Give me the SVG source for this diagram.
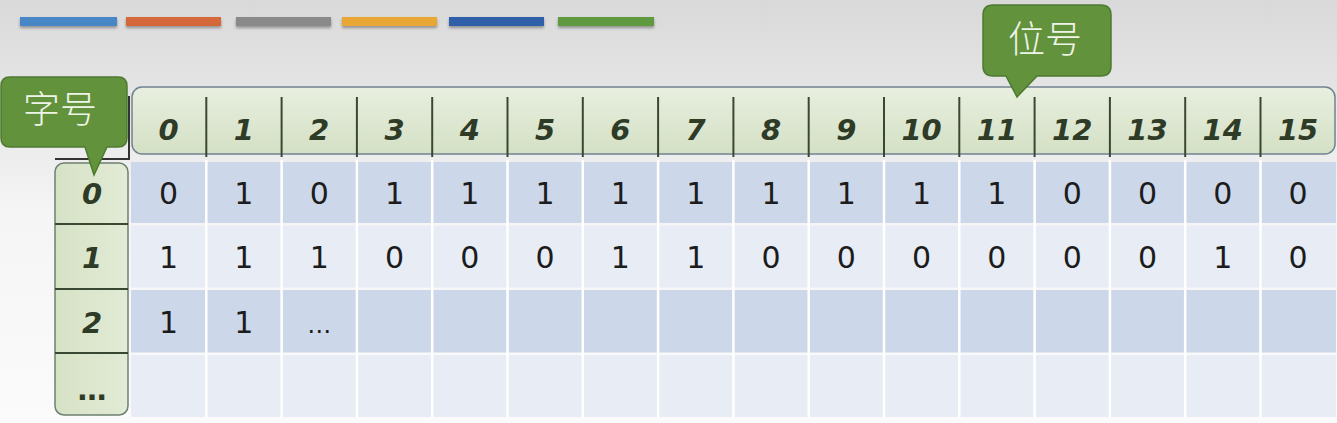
<svg xmlns="http://www.w3.org/2000/svg" width="1337" height="423" viewBox="0 0 1337 423">
  <defs>
    <linearGradient id="bg" x1="0" y1="0" x2="0" y2="1">
      <stop offset="0" stop-color="#d9d9d9"/>
      <stop offset="0.3" stop-color="#e9e9e9"/>
      <stop offset="0.5" stop-color="#f5f5f5"/>
      <stop offset="1" stop-color="#fbfbfb"/>
    </linearGradient>
    <linearGradient id="hdr" x1="0" y1="0" x2="0" y2="1">
      <stop offset="0" stop-color="#e8efdf"/>
      <stop offset="1" stop-color="#d4e0c5"/>
    </linearGradient>
    <linearGradient id="lcol" x1="0" y1="0" x2="1" y2="0">
      <stop offset="0" stop-color="#d6e2c6"/>
      <stop offset="1" stop-color="#e2ebd5"/>
    </linearGradient>
    <filter id="sh" x="-10%" y="-50%" width="120%" height="250%">
      <feGaussianBlur in="SourceAlpha" stdDeviation="1.5"/>
      <feOffset dy="2" result="b"/>
      <feComponentTransfer><feFuncA type="linear" slope="0.35"/></feComponentTransfer>
      <feMerge><feMergeNode/><feMergeNode in="SourceGraphic"/></feMerge>
    </filter>
  </defs>
  <style>
    .hd { font-family: "DejaVu Sans", "Liberation Sans", sans-serif; font-weight: bold; font-style: italic; font-size: 29px; fill: #2e3b26; text-anchor: middle; }
    .cell { font-family: "DejaVu Sans", "Liberation Sans", sans-serif; font-size: 30px; fill: #1c1c1c; text-anchor: middle; }
    .cjk { font-family: "Noto Sans CJK SC", "Noto Sans", sans-serif; font-weight: 300; font-size: 37px; fill: #eef4e8; text-anchor: middle; }
    .div { stroke: #3a4833; stroke-width: 2; }
    .gap { stroke: #ffffff; stroke-width: 2.5; }
    .callout { fill: #62923b; stroke: #4d7a2f; stroke-width: 1.5; }
    .dark { fill: #ccd7e9; }
    .light { fill: #e7ecf5; }
  </style>

  <rect x="0" y="0" width="1337" height="423" fill="url(#bg)"/>

  <g id="legend-bars" filter="url(#sh)">
    <rect x="20" y="17" width="97" height="9" fill="#4a86c6"/>
    <rect x="126" y="17" width="95" height="9" fill="#d4683a"/>
    <rect x="236" y="17" width="95" height="9" fill="#8a8a8a"/>
    <rect x="342" y="17" width="95" height="9" fill="#e9a736"/>
    <rect x="449" y="17" width="95" height="9" fill="#2f5ea8"/>
    <rect x="558" y="17" width="96" height="9" fill="#5f9a3f"/>
  </g>

  <g id="corner-lines" stroke="#333333" stroke-width="2" fill="none">
    <line x1="55" y1="159" x2="130" y2="159"/>
    <line x1="129" y1="96" x2="129" y2="159"/>
  </g>

  <g id="bit-header">
    <rect x="132" y="87" width="1203" height="67" rx="10" fill="url(#hdr)" stroke="#6f8291" stroke-width="1.5"/>
    <g class="div">
      <line x1="206.3" y1="97" x2="206.3" y2="157"/>
      <line x1="281.6" y1="97" x2="281.6" y2="157"/>
      <line x1="356.9" y1="97" x2="356.9" y2="157"/>
      <line x1="432.2" y1="97" x2="432.2" y2="157"/>
      <line x1="507.5" y1="97" x2="507.5" y2="157"/>
      <line x1="582.8" y1="97" x2="582.8" y2="157"/>
      <line x1="658.1" y1="97" x2="658.1" y2="157"/>
      <line x1="733.4" y1="97" x2="733.4" y2="157"/>
      <line x1="808.7" y1="97" x2="808.7" y2="157"/>
      <line x1="884.0" y1="97" x2="884.0" y2="157"/>
      <line x1="959.3" y1="97" x2="959.3" y2="157"/>
      <line x1="1034.6" y1="97" x2="1034.6" y2="157"/>
      <line x1="1109.9" y1="97" x2="1109.9" y2="157"/>
      <line x1="1185.2" y1="97" x2="1185.2" y2="157"/>
      <line x1="1260.5" y1="97" x2="1260.5" y2="157"/>
    </g>
    <g class="hd">
      <text x="168.6" y="140">0</text>
      <text x="243.9" y="140">1</text>
      <text x="319.2" y="140">2</text>
      <text x="394.5" y="140">3</text>
      <text x="469.8" y="140">4</text>
      <text x="545.1" y="140">5</text>
      <text x="620.4" y="140">6</text>
      <text x="695.7" y="140">7</text>
      <text x="771.0" y="140">8</text>
      <text x="846.3" y="140">9</text>
      <text x="921.6" y="140">10</text>
      <text x="996.9" y="140">11</text>
      <text x="1072.2" y="140">12</text>
      <text x="1147.5" y="140">13</text>
      <text x="1222.8" y="140">14</text>
      <text x="1298.1" y="140">15</text>
    </g>
  </g>

  <g id="word-column">
    <rect x="55" y="163" width="73" height="252" rx="9" fill="url(#lcol)" stroke="#6d8070" stroke-width="1.5"/>
    <g class="div">
      <line x1="55" y1="224" x2="128" y2="224"/>
      <line x1="55" y1="289" x2="128" y2="289"/>
      <line x1="55" y1="353" x2="128" y2="353"/>
    </g>
    <g class="hd">
      <text x="92" y="204">0</text>
      <text x="92" y="268">1</text>
      <text x="92" y="333">2</text>
      <text x="92" y="400" font-style="normal">…</text>
    </g>
  </g>

  <g id="bit-table">
    <rect class="dark" x="131" y="162" width="1205" height="61"/>
    <rect class="light" x="131" y="225.5" width="1205" height="62"/>
    <rect class="dark" x="131" y="290" width="1205" height="62.5"/>
    <rect class="light" x="131" y="355" width="1205" height="62"/>
    <g class="gap">
      <line x1="206.3" y1="160" x2="206.3" y2="418"/>
      <line x1="281.6" y1="160" x2="281.6" y2="418"/>
      <line x1="356.9" y1="160" x2="356.9" y2="418"/>
      <line x1="432.2" y1="160" x2="432.2" y2="418"/>
      <line x1="507.5" y1="160" x2="507.5" y2="418"/>
      <line x1="582.8" y1="160" x2="582.8" y2="418"/>
      <line x1="658.1" y1="160" x2="658.1" y2="418"/>
      <line x1="733.4" y1="160" x2="733.4" y2="418"/>
      <line x1="808.7" y1="160" x2="808.7" y2="418"/>
      <line x1="884.0" y1="160" x2="884.0" y2="418"/>
      <line x1="959.3" y1="160" x2="959.3" y2="418"/>
      <line x1="1034.6" y1="160" x2="1034.6" y2="418"/>
      <line x1="1109.9" y1="160" x2="1109.9" y2="418"/>
      <line x1="1185.2" y1="160" x2="1185.2" y2="418"/>
      <line x1="1260.5" y1="160" x2="1260.5" y2="418"/>
    </g>
    <g class="cell">
      <text x="168.6" y="204">0</text>
      <text x="243.9" y="204">1</text>
      <text x="319.2" y="204">0</text>
      <text x="394.5" y="204">1</text>
      <text x="469.8" y="204">1</text>
      <text x="545.1" y="204">1</text>
      <text x="620.4" y="204">1</text>
      <text x="695.7" y="204">1</text>
      <text x="771.0" y="204">1</text>
      <text x="846.3" y="204">1</text>
      <text x="921.6" y="204">1</text>
      <text x="996.9" y="204">1</text>
      <text x="1072.2" y="204">0</text>
      <text x="1147.5" y="204">0</text>
      <text x="1222.8" y="204">0</text>
      <text x="1298.1" y="204">0</text>

      <text x="168.6" y="268">1</text>
      <text x="243.9" y="268">1</text>
      <text x="319.2" y="268">1</text>
      <text x="394.5" y="268">0</text>
      <text x="469.8" y="268">0</text>
      <text x="545.1" y="268">0</text>
      <text x="620.4" y="268">1</text>
      <text x="695.7" y="268">1</text>
      <text x="771.0" y="268">0</text>
      <text x="846.3" y="268">0</text>
      <text x="921.6" y="268">0</text>
      <text x="996.9" y="268">0</text>
      <text x="1072.2" y="268">0</text>
      <text x="1147.5" y="268">0</text>
      <text x="1222.8" y="268">1</text>
      <text x="1298.1" y="268">0</text>

      <text x="168.6" y="333">1</text>
      <text x="243.9" y="333">1</text>
      <text x="319.2" y="333" font-size="24">…</text>
    </g>
  </g>

  <g id="callout-word">
    <path class="callout" d="M10,77 H118 Q127,77 127,86 V138 Q127,147 118,147 H107 L94,175 L85,147 H10 Q1,147 1,138 V86 Q1,77 10,77 Z"/>
    <text class="cjk" x="60" y="123">字号</text>
  </g>

  <g id="callout-bit">
    <path class="callout" d="M993,5 H1101 Q1111,5 1111,15 V66 Q1111,76 1101,76 H1037 L1017,97 L1006,76 H993 Q983,76 983,66 V15 Q983,5 993,5 Z"/>
    <text class="cjk" x="1045" y="53">位号</text>
  </g>
</svg>
